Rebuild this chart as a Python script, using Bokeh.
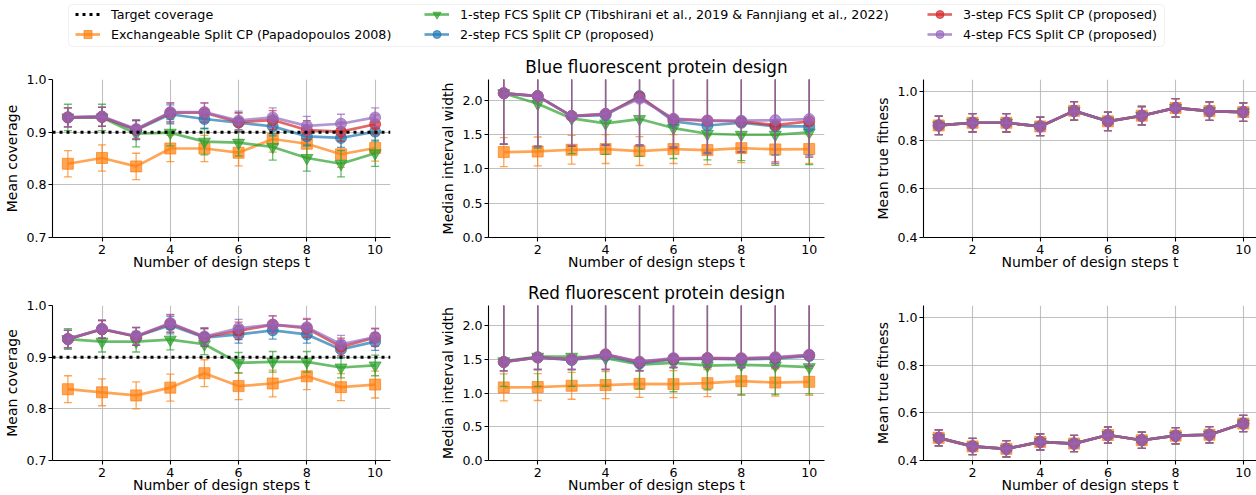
from bokeh.plotting import figure
from bokeh.models import (ColumnDataSource, Span, Legend, LegendItem, FixedTicker,
                          NumeralTickFormatter, BoxAnnotation, Range1d)
from bokeh.layouts import column, row
from bokeh.embed import file_html
from bokeh.resources import INLINE

FONT = "DejaVu Sans"

# ---------------- data ----------------
steps = [1, 2, 3, 4, 5, 6, 7, 8, 9, 10]
method_labels = [
    "Exchangeable Split CP (Papadopoulos 2008)",
    "1-step FCS Split CP (Tibshirani et al., 2019 & Fannjiang et al., 2022)",
    "2-step FCS Split CP (proposed)",
    "3-step FCS Split CP (proposed)",
    "4-step FCS Split CP (proposed)",
]
method_colors = ["#ff7f0e", "#2ca02c", "#1f77b4", "#d62728", "#9467bd"]
method_markers = ["square", "inverted_triangle", "circle", "circle", "circle"]
marker_sizes = [11, 12, 11, 11, 11]
target_label = "Target coverage"
target_level = 0.9

titles = ["Blue fluorescent protein design", "Red fluorescent protein design"]
xlabel = "Number of design steps t"
ylabels = ["Mean coverage", "Median interval width", "Mean true fitness"]
xticks = [2, 4, 6, 8, 10]
cov_ticks = [0.7, 0.8, 0.9, 1.0]
wid_ticks = [0.0, 0.5, 1.0, 1.5, 2.0]
fit_ticks = [0.4, 0.6, 0.8, 1.0]

# Blue fluorescent protein: mean coverage
cov_bfp_exch = [0.840, 0.851, 0.835, 0.869, 0.869, 0.861, 0.887, 0.878, 0.858, 0.870]
cov_bfp_1 = [0.928, 0.928, 0.897, 0.899, 0.882, 0.880, 0.872, 0.851, 0.840, 0.860]
cov_bfp_2 = [0.928, 0.929, 0.904, 0.934, 0.925, 0.918, 0.911, 0.892, 0.889, 0.901]
cov_bfp_3 = [0.928, 0.929, 0.905, 0.937, 0.937, 0.919, 0.923, 0.904, 0.901, 0.915]
cov_bfp_4 = [0.928, 0.930, 0.906, 0.938, 0.938, 0.922, 0.928, 0.912, 0.916, 0.928]
cov_bfp_err = [0.025, 0.025, 0.018, 0.018, 0.018]

# Red fluorescent protein: mean coverage
cov_rfp_exch = [0.838, 0.832, 0.826, 0.841, 0.869, 0.844, 0.849, 0.863, 0.842, 0.847]
cov_rfp_1 = [0.935, 0.930, 0.930, 0.934, 0.925, 0.889, 0.891, 0.891, 0.880, 0.884]
cov_rfp_2 = [0.935, 0.954, 0.940, 0.962, 0.938, 0.944, 0.952, 0.944, 0.915, 0.930]
cov_rfp_3 = [0.935, 0.954, 0.940, 0.965, 0.939, 0.951, 0.963, 0.956, 0.920, 0.938]
cov_rfp_4 = [0.935, 0.955, 0.941, 0.966, 0.940, 0.956, 0.963, 0.958, 0.925, 0.939]
cov_rfp_err = [0.026, 0.020, 0.017, 0.017, 0.017]

# Blue fluorescent protein: median interval width (upper bars run past the axis top)
wid_bfp_exch = [1.243, 1.253, 1.277, 1.287, 1.258, 1.287, 1.272, 1.301, 1.282, 1.287]
wid_bfp_1 = [2.100, 1.947, 1.733, 1.661, 1.724, 1.593, 1.510, 1.496, 1.496, 1.530]
wid_bfp_2 = [2.100, 2.059, 1.767, 1.780, 2.060, 1.690, 1.630, 1.670, 1.617, 1.617]
wid_bfp_3 = [2.100, 2.059, 1.767, 1.800, 2.044, 1.720, 1.700, 1.690, 1.636, 1.690]
wid_bfp_4 = [2.100, 2.059, 1.767, 1.800, 2.020, 1.730, 1.704, 1.700, 1.709, 1.724]
wid_bfp_exch_err = 0.21
wid_bfp_1_lo = [1.36, 1.30, 1.22, 1.21, 1.18, 1.15, 1.13, 1.12, 1.05, 1.06]
wid_bfp_2_lo = [1.36, 1.32, 1.33, 1.34, 1.33, 1.32, 1.24, 1.25, 1.20, 1.20]
wid_bfp_3_lo = [1.36, 1.33, 1.33, 1.35, 1.35, 1.30, 1.22, 1.24, 1.10, 1.17]
wid_bfp_4_lo = [1.36, 1.33, 1.34, 1.35, 1.35, 1.32, 1.22, 1.24, 1.08, 1.17]
wid_hi_beyond = 2.6

# Red fluorescent protein: median interval width
wid_rfp_exch = [1.085, 1.090, 1.109, 1.119, 1.138, 1.133, 1.148, 1.177, 1.157, 1.167]
wid_rfp_1 = [1.472, 1.540, 1.540, 1.520, 1.424, 1.448, 1.409, 1.419, 1.409, 1.385]
wid_rfp_2 = [1.462, 1.530, 1.490, 1.560, 1.440, 1.500, 1.510, 1.500, 1.510, 1.550]
wid_rfp_3 = [1.462, 1.530, 1.500, 1.574, 1.460, 1.510, 1.520, 1.515, 1.525, 1.565]
wid_rfp_4 = [1.462, 1.530, 1.500, 1.574, 1.467, 1.520, 1.520, 1.516, 1.535, 1.569]
wid_rfp_exch_err = 0.20
wid_rfp_1_lo = [1.10, 1.10, 1.10, 1.10, 1.06, 1.02, 1.05, 0.97, 0.98, 0.99]
wid_rfp_2_lo = [1.33, 1.35, 1.35, 1.35, 1.33, 1.38, 1.38, 1.38, 1.38, 1.40]
wid_rfp_3_lo = [1.33, 1.35, 1.35, 1.35, 1.33, 1.38, 1.38, 1.38, 1.38, 1.40]
wid_rfp_4_lo = [1.33, 1.35, 1.35, 1.35, 1.33, 1.38, 1.38, 1.38, 1.38, 1.40]

# Mean true fitness (identical for every method)
fit_bfp = [0.861, 0.872, 0.872, 0.857, 0.921, 0.878, 0.901, 0.933, 0.920, 0.916]
fit_bfp_err = 0.038
fit_rfp = [0.495, 0.459, 0.449, 0.478, 0.471, 0.507, 0.485, 0.504, 0.508, 0.555]
fit_rfp_err = 0.034


def sym(vals, err):
    return [v - err for v in vals], [v + err for v in vals]


# ---------------- layout constants (page pixels) ----------------
LEG_H = 48
ROW1_TOP, ROW1_FH, ROW1_BOT = 31, 158, 40
ROW2_TOP, ROW2_FH, ROW2_BOT = 27, 156, 35
COLS = [  # fig width, left border, right border, x range
    (437, 52, 47, (0.55, 10.45)),
    (435, 48, 48, (0.55, 10.45)),
    (384, 48, 0, (0.55, 10.39)),
]


def make_panel(col, top, fh, bot, vals, los, his, yr, yticks, ylabel, title=None, target=False):
    fw, bl, br, xr = COLS[col]
    p = figure(width=fw, height=top + fh + bot, x_range=Range1d(*xr), y_range=Range1d(*yr),
               toolbar_location=None, output_backend="svg",
               min_border_left=bl, min_border_right=br,
               min_border_top=top, min_border_bottom=bot)
    p.outline_line_color = None
    if title:
        p.title.text = title
        p.title.align = "center"
        p.title.text_font = FONT
        p.title.text_font_size = "16.8px"
        p.title.text_font_style = "normal"
        p.title.text_color = "black"
        p.title.standoff = 6
    for ax in (p.xaxis[0], p.yaxis[0]):
        ax.axis_line_color = "black"
        ax.axis_line_width = 1.1
        ax.major_tick_line_color = "black"
        ax.major_tick_line_width = 1.1
        ax.major_tick_out = 4
        ax.major_tick_in = 0
        ax.minor_tick_line_color = None
        ax.major_label_text_font = FONT
        ax.major_label_text_font_size = "12.6px"
        ax.major_label_text_color = "black"
        ax.axis_label_text_font = FONT
        ax.axis_label_text_font_size = "14px"
        ax.axis_label_text_font_style = "normal"
        ax.axis_label_text_color = "black"
    p.xaxis.ticker = FixedTicker(ticks=xticks)
    p.yaxis.ticker = FixedTicker(ticks=yticks)
    p.yaxis.formatter = NumeralTickFormatter(format="0.0")
    p.xaxis.major_label_standoff = 3
    p.yaxis.major_label_standoff = 2
    p.yaxis.axis_label_standoff = 3
    p.xaxis.axis_label_standoff = -3
    p.yaxis.axis_label = ylabel
    p.xaxis.axis_label = xlabel
    p.grid.grid_line_color = "#b0b0b0"
    p.grid.grid_line_width = 1.1
    p.grid.grid_line_alpha = 0.8

    for k in range(5):
        src = ColumnDataSource(dict(x=steps, y=vals[k], lo=los[k], hi=his[k]))
        c = method_colors[k]
        p.line("x", "y", source=src, line_color=c, line_alpha=0.7, line_width=2.7)
        p.segment("x", "lo", "x", "hi", source=src, line_color=c, line_alpha=0.7, line_width=1.3)
        p.scatter("x", "lo", source=src, marker="dash", size=8, line_color=c,
                  line_alpha=0.7, line_width=1.3)
        p.scatter("x", "hi", source=src, marker="dash", size=8, line_color=c,
                  line_alpha=0.7, line_width=1.3)
        p.scatter("x", "y", source=src, marker=method_markers[k], size=marker_sizes[k],
                  fill_color=c, fill_alpha=0.7, line_color=c, line_alpha=0.7, line_width=1)

    if target:
        p.add_layout(Span(location=target_level, dimension="width", line_color="black",
                          line_width=3, line_dash="3 4"))
    return p


def build_row(top, fh, bot, cov, cov_err, wid, wid_exch_err, wid_los, fit, fit_err, title):
    c_lo, c_hi = zip(*[sym(v, e) for v, e in zip(cov, cov_err)])
    w_lo = [sym(wid[0], wid_exch_err)[0]] + wid_los
    w_hi = [sym(wid[0], wid_exch_err)[1]] + [[wid_hi_beyond] * len(steps)] * 4
    f_lo, f_hi = sym(fit, fit_err)
    p1 = make_panel(0, top, fh, bot, cov, c_lo, c_hi, (0.7, 1.0), cov_ticks, ylabels[0],
                    target=True)
    p2 = make_panel(1, top, fh, bot, wid, w_lo, w_hi, (0.0, 2.3), wid_ticks, ylabels[1],
                    title=title)
    p3 = make_panel(2, top, fh, bot, [fit] * 5, [f_lo] * 5, [f_hi] * 5, (0.4, 1.05),
                    fit_ticks, ylabels[2])
    return row(p1, p2, p3)


row1 = build_row(ROW1_TOP, ROW1_FH, ROW1_BOT,
                 [cov_bfp_exch, cov_bfp_1, cov_bfp_2, cov_bfp_3, cov_bfp_4], cov_bfp_err,
                 [wid_bfp_exch, wid_bfp_1, wid_bfp_2, wid_bfp_3, wid_bfp_4], wid_bfp_exch_err,
                 [wid_bfp_1_lo, wid_bfp_2_lo, wid_bfp_3_lo, wid_bfp_4_lo],
                 fit_bfp, fit_bfp_err, titles[0])
row2 = build_row(ROW2_TOP, ROW2_FH, ROW2_BOT,
                 [cov_rfp_exch, cov_rfp_1, cov_rfp_2, cov_rfp_3, cov_rfp_4], cov_rfp_err,
                 [wid_rfp_exch, wid_rfp_1, wid_rfp_2, wid_rfp_3, wid_rfp_4], wid_rfp_exch_err,
                 [wid_rfp_1_lo, wid_rfp_2_lo, wid_rfp_3_lo, wid_rfp_4_lo],
                 fit_rfp, fit_rfp_err, titles[1])

# ---------------- legend strip ----------------
# the strip's y range lies well below the data values, so the legend-only renderers
# stay out of view while the legend still draws their glyphs
OFF = 40
lf = figure(width=1256, height=LEG_H, x_range=Range1d(0, 1256),
            y_range=Range1d(-LEG_H - OFF, -OFF),
            toolbar_location=None, output_backend="svg", min_border=0,
            x_axis_location=None, y_axis_location=None)
lf.outline_line_color = None
lf.xgrid.visible = False
lf.ygrid.visible = False
lf.add_layout(BoxAnnotation(left=68, right=1164, bottom=-46 - OFF, top=-4 - OFF,
                            fill_color="white", fill_alpha=0.8, line_color="#cccccc",
                            line_width=1, border_radius=4))

leg_src = ColumnDataSource(dict(x=steps, y=cov_bfp_exch))
target_r = lf.line("x", "y", source=leg_src, line_color="black", line_width=3,
                   line_dash="3 4")
items = [LegendItem(label=target_label, renderers=[target_r])]
for k in range(5):
    lr = lf.line("x", "y", source=leg_src, line_color=method_colors[k],
                 line_alpha=0.7, line_width=2.7)
    mr = lf.scatter("x", "y", source=leg_src, marker=method_markers[k],
                    size=marker_sizes[k], fill_color=method_colors[k], fill_alpha=0.7,
                    line_color=method_colors[k], line_alpha=0.7)
    items.append(LegendItem(label=method_labels[k], renderers=[lr, mr]))

for (i0, xpos) in [(0, 75), (2, 424), (4, 927)]:
    lg = Legend(items=items[i0:i0 + 2], location=(xpos, 4), orientation="vertical",
                glyph_width=25, glyph_height=20, label_standoff=11, spacing=0,
                padding=0, margin=0, border_line_color=None, background_fill_alpha=0,
                label_text_font=FONT, label_text_font_size="12.7px",
                label_text_color="black", label_height=20)
    lf.add_layout(lg)

page = column(lf, row1, row2)
open("out.html", "w").write(file_html(page, INLINE))
